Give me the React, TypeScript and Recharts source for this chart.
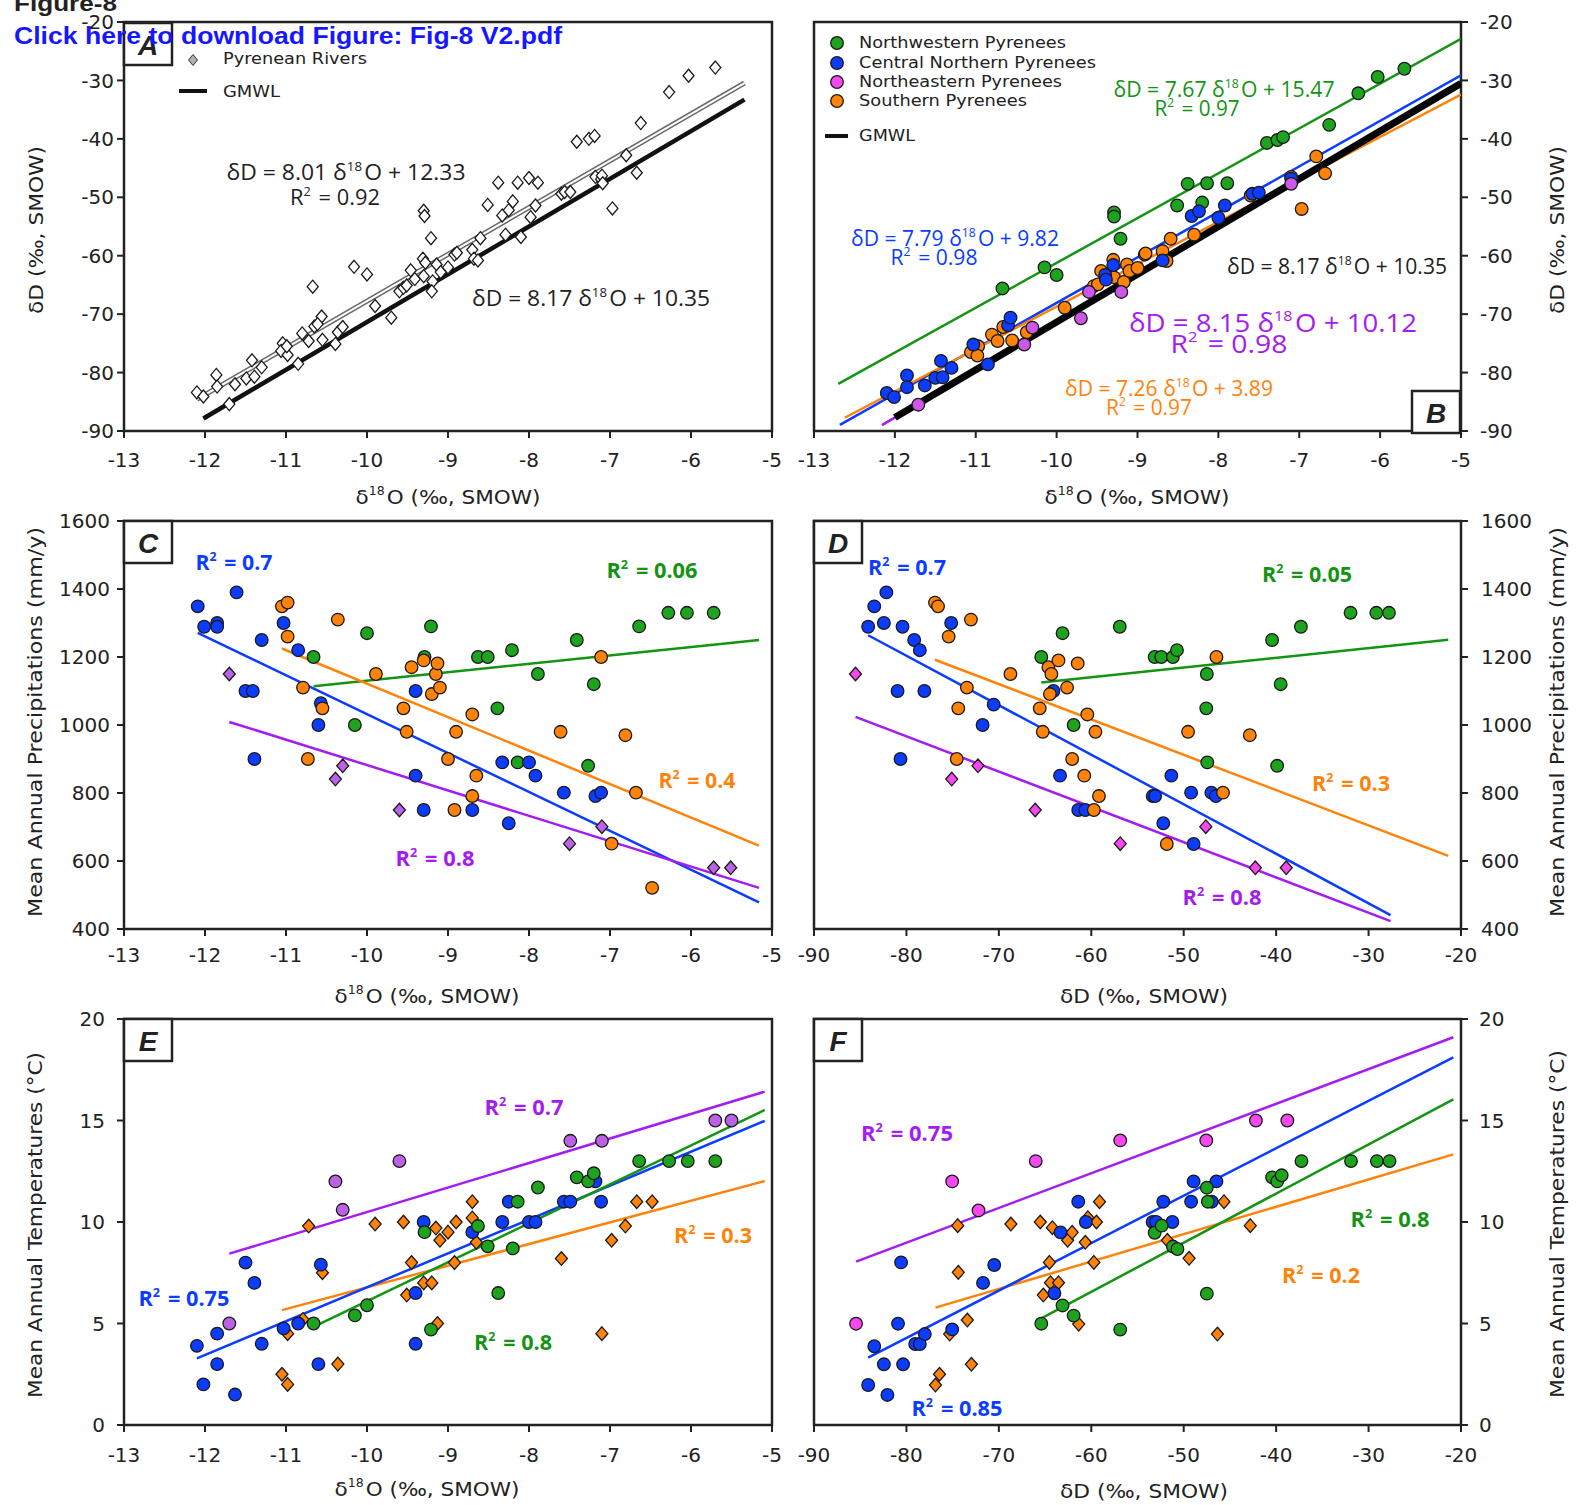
import React from 'react';
import { ScatterChart, Scatter, XAxis, YAxis, ReferenceArea } from 'recharts';

type P = [number, number];

// ---- panel A : river waters, δ18O vs δD
const riversA: P[] = [
  [-12.1, -83.4], [-12.02, -84.1], [-11.86, -80.4], [-11.85, -82.4], [-11.7, -85.4], [-11.63, -82.0], [-11.49, -81.0], [-11.42, -77.9], [-11.39, -80.7], [-11.3, -79.1],
  [-11.04, -75.0], [-11.06, -76.3], [-10.98, -77.0], [-10.99, -75.5], [-10.85, -78.5], [-10.8, -73.3], [-10.72, -74.6], [-10.67, -65.3], [-10.65, -72.1], [-10.56, -70.4],
  [-10.55, -74.4], [-10.61, -71.7], [-10.39, -75.1], [-10.36, -73.1], [-10.3, -72.2], [-10.16, -61.9], [-10.0, -63.2], [-9.9, -68.6], [-9.7, -70.6], [-9.6, -66.1],
  [-9.55, -65.5], [-9.51, -65.1], [-9.46, -62.5], [-9.41, -64.0], [-9.3, -52.3], [-9.29, -53.2], [-9.31, -60.5], [-9.28, -61.2], [-9.3, -63.5], [-9.21, -57.0],
  [-9.19, -64.4], [-9.2, -66.1], [-9.14, -61.5], [-9.09, -62.8], [-9.0, -62.0], [-8.92, -59.8], [-8.89, -59.5], [-8.7, -59.0], [-8.68, -60.5], [-8.63, -60.8],
  [-8.6, -57.0], [-8.51, -51.3], [-8.38, -47.5], [-8.33, -53.1], [-8.29, -56.4], [-8.25, -52.2], [-8.2, -50.7], [-8.14, -47.5], [-8.1, -56.8], [-8.0, -46.7],
  [-7.98, -53.4], [-7.92, -51.4], [-7.89, -47.5], [-7.6, -49.4], [-7.56, -49.1], [-7.49, -49.1], [-7.41, -40.5], [-7.26, -40.0], [-7.19, -39.5], [-7.18, -46.5],
  [-7.11, -46.9], [-7.1, -46.3], [-7.09, -47.6], [-6.97, -51.9], [-6.8, -42.8], [-6.67, -45.8], [-6.62, -37.3], [-6.27, -32.0], [-6.03, -29.2], [-5.7, -27.8],
];

// ---- panel B : the four regions, δ18O vs δD
const nwB: P[] = [
  [-10.67, -65.6], [-10.15, -62.0], [-10.0, -63.3], [-9.29, -52.6], [-9.29, -53.3], [-9.21, -57.1], [-8.51, -51.4], [-8.38, -47.7], [-8.2, -50.9],
  [-8.14, -47.6], [-7.89, -47.6], [-7.4, -40.7], [-7.27, -40.2], [-7.2, -39.7], [-6.63, -37.6], [-6.27, -32.2], [-6.03, -29.4], [-5.7, -28.0],
];
const cnB: P[] = [
  [-12.1, -83.5], [-12.01, -84.2], [-11.85, -80.5], [-11.85, -82.5], [-11.63, -82.2], [-11.5, -80.9], [-11.43, -78.0], [-11.41, -80.8], [-11.3, -79.2],
  [-11.03, -75.2], [-10.85, -78.6], [-10.6, -71.9], [-10.57, -70.6], [-9.4, -63.3], [-9.39, -64.1], [-9.3, -61.6], [-8.69, -60.8], [-8.33, -53.2],
  [-8.24, -52.4], [-8.0, -53.5], [-7.92, -51.4], [-7.58, -49.4], [-7.5, -49.2], [-7.1, -46.8],
];
const neB: P[] = [
  [-11.71, -85.5], [-10.3, -72.3], [-10.4, -75.2], [-9.7, -70.7], [-9.6, -66.2], [-9.2, -66.2], [-7.1, -47.7],
];
const sB: P[] = [
  [-11.06, -76.5], [-10.97, -75.5], [-10.98, -77.1], [-10.8, -73.5], [-10.73, -74.6], [-10.66, -72.2], [-10.55, -74.5], [-10.37, -73.1], [-9.9, -68.9],
  [-9.54, -65.2], [-9.49, -64.9], [-9.45, -62.6], [-9.3, -60.7], [-9.29, -63.7], [-9.17, -64.5], [-9.13, -61.5], [-9.1, -62.6], [-9.0, -62.1],
  [-8.91, -59.8], [-8.9, -59.6], [-8.69, -59.2], [-8.64, -60.9], [-8.59, -57.1], [-8.3, -56.4], [-7.6, -49.7], [-7.1, -46.5], [-6.97, -52.0],
  [-6.79, -43.0], [-6.68, -45.9],
];

// regression equations: slope, intercept, x range
const fitA = { m: 8.01, b: 12.33, x0: -12.1, x1: -5.34 };
const gmwlA = { m: 8.17, b: 10.35, x0: -12.02, x1: -5.34 };
const gmwlB = { m: 8.17, b: 10.35, x0: -12.0, x1: -5.0 };
const fitNwB = { m: 7.67, b: 15.47, x0: -12.7, x1: -5.0 };
const fitCnB = { m: 7.79, b: 9.82, x0: -12.68, x1: -5.0 };
const fitNeB = { m: 8.15, b: 10.12, x0: -12.16, x1: -5.0 };
const fitSB = { m: 7.26, b: 3.89, x0: -12.62, x1: -5.0 };

// ---- panel C : δ18O vs precipitation
const cnC: P[] = [
  [-12.09, 1349], [-12.01, 1289], [-11.85, 1300], [-11.85, 1289], [-11.61, 1390], [-11.5, 1100], [-11.41, 1100], [-11.3, 1250], [-11.39, 900],
  [-11.03, 1300], [-10.85, 1220], [-10.57, 1064], [-10.6, 1000], [-9.4, 1100], [-9.4, 851], [-9.3, 750], [-8.7, 750], [-8.33, 890], [-8.25, 711],
  [-8.0, 890], [-7.92, 851], [-7.57, 801], [-7.18, 791], [-7.11, 801],
];
const nwC: P[] = [
  [-10.66, 1200], [-10.15, 1000], [-10.0, 1270], [-9.29, 1200], [-9.21, 1290], [-8.63, 1200], [-8.51, 1200], [-8.39, 1049], [-8.21, 1220],
  [-8.14, 890], [-7.89, 1150], [-7.41, 1250], [-7.27, 880], [-7.2, 1120], [-6.64, 1290], [-6.28, 1330], [-6.05, 1330], [-5.72, 1330],
];
const sC: P[] = [
  [-11.05, 1349], [-10.98, 1360], [-10.98, 1260], [-10.79, 1110], [-10.73, 900], [-10.55, 1049], [-10.36, 1310], [-9.89, 1150], [-9.55, 1049],
  [-9.51, 980], [-9.45, 1170], [-9.3, 1190], [-9.2, 1091], [-9.15, 1150], [-9.13, 1181], [-9.1, 1110], [-9.0, 900], [-8.92, 750], [-8.9, 980],
  [-8.7, 1031], [-8.7, 791], [-8.65, 851], [-7.61, 980], [-7.11, 1200], [-6.98, 651], [-6.81, 970], [-6.68, 801], [-6.48, 521],
];
const neC: P[] = [
  [-11.7, 1150], [-10.39, 841], [-10.3, 880], [-9.6, 750], [-7.5, 651], [-7.1, 701], [-5.72, 580], [-5.51, 580],
];
const lineCnC: P[] = [[-12.09, 1271], [-5.16, 478]];
const lineNwC: P[] = [[-10.66, 1114], [-5.16, 1250]];
const lineSC: P[] = [[-11.05, 1225], [-5.16, 645]];
const lineNeC: P[] = [[-11.7, 1009], [-5.16, 521]];

// ---- panel D : δD vs precipitation
const cnD: P[] = [
  [-84.14, 1289], [-83.48, 1349], [-82.44, 1300], [-82.17, 1390], [-80.96, 1100], [-80.64, 900], [-80.42, 1289], [-79.16, 1250], [-78.55, 1220],
  [-78.06, 1100], [-75.16, 1300], [-71.76, 1000], [-70.56, 1060], [-64.1, 1100], [-63.38, 851], [-61.41, 750], [-60.65, 750], [-53.36, 791],
  [-53.09, 791], [-52.21, 711], [-51.34, 851], [-49.2, 801], [-48.93, 650], [-47.01, 801], [-46.52, 791],
];
const nwD: P[] = [
  [-65.41, 1200], [-63.11, 1270], [-61.91, 1000], [-56.92, 1289], [-53.14, 1200], [-52.43, 1200], [-51.17, 1200], [-50.73, 1220], [-47.5, 1150],
  [-47.56, 1049], [-47.45, 890], [-40.44, 1250], [-39.89, 880], [-39.51, 1120], [-37.32, 1289], [-31.95, 1330], [-29.16, 1330], [-27.79, 1330],
];
const sD: P[] = [
  [-76.91, 1360], [-76.58, 1349], [-75.43, 1260], [-73.02, 1310], [-73.46, 1110], [-74.39, 1049], [-74.56, 900], [-68.75, 1150], [-65.58, 1049],
  [-65.25, 980], [-64.64, 1170], [-64.32, 1150], [-64.48, 1091], [-63.55, 1190], [-62.62, 1110], [-61.47, 1181], [-62.07, 900], [-60.76, 851],
  [-60.43, 1031], [-59.72, 750], [-59.55, 980], [-59.17, 791], [-51.83, 650], [-49.53, 980], [-46.46, 1200], [-45.75, 801], [-42.85, 970],
];
const neD: P[] = [
  [-85.51, 1150], [-75.1, 841], [-72.26, 880], [-66.07, 750], [-56.87, 651], [-47.61, 701], [-42.25, 580], [-38.91, 580],
];
const lineCnD: P[] = [[-84.14, 1264], [-27.62, 441]];
const lineNwD: P[] = [[-65.41, 1125], [-21.38, 1251]];
const lineSD: P[] = [[-76.91, 1192], [-21.38, 615]];
const lineNeD: P[] = [[-85.51, 1024], [-27.62, 423]];

// ---- panel E : δ18O vs temperature
const cnE: P[] = [
  [-12.1, 3.9], [-12.02, 2.0], [-11.85, 4.5], [-11.85, 3.0], [-11.63, 1.5], [-11.5, 8.0], [-11.39, 7.0], [-11.3, 4.0], [-11.03, 4.76],
  [-10.85, 5.0], [-10.57, 7.9], [-10.6, 3.0], [-9.4, 6.5], [-9.4, 4.0], [-9.3, 10.0], [-8.7, 9.5], [-8.33, 10.0], [-8.25, 11.0], [-8.0, 10.0],
  [-7.92, 10.0], [-7.57, 11.0], [-7.49, 11.0], [-7.18, 12.0], [-7.11, 11.0],
];
const nwE: P[] = [
  [-10.66, 5.0], [-10.15, 5.4], [-10.0, 5.9], [-9.29, 9.5], [-9.21, 4.7], [-8.63, 9.8], [-8.51, 8.8], [-8.38, 6.5], [-8.2, 8.7], [-8.14, 11.0],
  [-7.89, 11.7], [-7.41, 12.2], [-7.27, 12.0], [-7.2, 12.4], [-6.64, 13.0], [-6.27, 13.0], [-6.04, 13.0], [-5.7, 13.0],
];
const sE: P[] = [
  [-11.05, 2.5], [-10.98, 2.0], [-10.98, 4.5], [-10.79, 5.2], [-10.72, 9.8], [-10.55, 7.5], [-10.36, 3.0], [-9.9, 9.9], [-9.55, 10.0],
  [-9.51, 6.4], [-9.45, 8.0], [-9.3, 7.0], [-9.2, 7.0], [-9.15, 9.7], [-9.13, 5.0], [-9.1, 9.1], [-9.0, 9.5], [-8.92, 8.0], [-8.9, 10.0],
  [-8.7, 11.0], [-8.7, 10.2], [-8.65, 9.0], [-7.6, 8.2], [-7.1, 4.5], [-6.98, 9.1], [-6.81, 9.8], [-6.67, 11.0], [-6.48, 11.0],
];
const neE: P[] = [
  [-11.7, 5.0], [-10.39, 12.0], [-10.3, 10.6], [-9.6, 13.0], [-7.49, 14.0], [-7.1, 14.0], [-5.7, 15.0], [-5.5, 15.0],
];
const lineCnE: P[] = [[-12.1, 3.28], [-5.09, 14.98]];
const lineNwE: P[] = [[-10.66, 4.83], [-5.09, 15.52]];
const lineSE: P[] = [[-11.05, 5.66], [-5.09, 12.02]];
const lineNeE: P[] = [[-11.7, 8.44], [-5.09, 16.42]];

// ---- panel F : δD vs temperature
const cnF: P[] = [
  [-84.14, 1.97], [-83.48, 3.88], [-82.44, 2.99], [-82.06, 1.48], [-80.91, 4.99], [-80.58, 8.01], [-80.36, 2.99], [-79.05, 3.99], [-78.55, 3.99],
  [-78.01, 4.48], [-75.05, 4.71], [-71.71, 7.0], [-70.5, 7.88], [-63.99, 6.49], [-63.33, 9.49], [-61.41, 11.0], [-60.59, 10.0], [-53.36, 10.0],
  [-52.98, 10.0], [-52.21, 11.0], [-51.23, 10.0], [-49.2, 11.0], [-48.93, 12.0], [-46.96, 11.0], [-46.46, 12.0],
];
const nwF: P[] = [
  [-65.41, 4.99], [-63.11, 5.89], [-61.91, 5.39], [-56.87, 4.7], [-53.14, 9.47], [-52.38, 9.82], [-51.17, 8.79], [-50.68, 8.67], [-47.5, 6.47],
  [-47.5, 11.69], [-47.39, 11.0], [-40.44, 12.2], [-39.89, 12.0], [-39.4, 12.3], [-37.26, 13.0], [-31.9, 13.0], [-29.1, 13.0], [-27.73, 13.0],
];
const sF: P[] = [
  [-76.86, 1.97], [-76.42, 2.5], [-72.97, 2.99], [-75.32, 4.48], [-73.41, 5.17], [-61.36, 4.97], [-74.39, 7.52], [-74.45, 9.82], [-68.7, 9.9],
  [-65.52, 10.0], [-65.19, 6.4], [-64.53, 8.01], [-64.42, 7.01], [-64.21, 9.72], [-63.55, 7.01], [-62.56, 9.1], [-62.07, 9.49], [-60.65, 9.0],
  [-60.37, 10.21], [-59.72, 8.01], [-59.44, 10.0], [-59.11, 11.0], [-51.77, 9.1], [-49.42, 8.21], [-46.35, 4.48], [-45.64, 11.0], [-42.8, 9.82],
];
const neF: P[] = [
  [-85.45, 4.99], [-75.05, 12.0], [-72.2, 10.57], [-66.01, 13.0], [-56.87, 14.02], [-47.56, 14.02], [-42.19, 15.0], [-38.79, 15.0],
];
const lineCnF: P[] = [[-84.14, 3.32], [-20.83, 18.11]];
const lineNwF: P[] = [[-65.41, 5.25], [-20.83, 16.04]];
const lineSF: P[] = [[-76.86, 5.78], [-20.83, 13.33]];
const lineNeF: P[] = [[-85.45, 8.05], [-20.83, 19.1]];

// ---- axis ticks
const o18Ticks = [-13, -12, -11, -10, -9, -8, -7, -6, -5];
const dTicks = [-90, -80, -70, -60, -50, -40, -30, -20];
const precipTicks = [400, 600, 800, 1000, 1200, 1400, 1600];
const tempTicks = [0, 5, 10, 15, 20];

// ---- colours
const GREEN = '#1ea31e';
const GREEN_LINE = '#139413';
const BLUE = '#0b3cff';
const ORANGE = '#ff8209';
const PURPLE = '#a51cf0';
const PINK = '#f548ee';
const ORCHID = '#bb62e6';
const INK = '#222';

const FONT_TICK = "'DejaVu Sans', Verdana, sans-serif";
const FONT_TITLE = "'DejaVu Sans', Verdana, sans-serif";
const FONT_NOTE = "'Open Sans', 'Noto Sans', sans-serif";

const pts = (a: P[]) => a.map(([x, y]) => ({ x, y }));
const eqLine = (e: { m: number; b: number; x0: number; x1: number }) => [
  { x: e.x0, y: e.m * e.x0 + e.b },
  { x: e.x1, y: e.m * e.x1 + e.b },
];

const circle = (fill: string) => (s: any) => (
  <circle cx={s.cx} cy={s.cy} r={6.3} fill={fill} stroke="#1a1a1a" strokeWidth={1.3} />
);
const diamond = (fill: string, w = 6, h = 6.8) => (s: any) => (
  <path
    d={`M${s.cx},${s.cy - h}L${s.cx + w},${s.cy}L${s.cx},${s.cy + h}L${s.cx - w},${s.cy}Z`}
    fill={fill}
    stroke="#1a1a1a"
    strokeWidth={1.3}
  />
);
const noDot = () => <g />;

function dots(key: string, data: P[], shape: (s: any) => React.ReactElement) {
  return <Scatter key={key} data={pts(data)} shape={shape} isAnimationActive={false} legendType="none" />;
}

function fit(key: string, data: { x: number; y: number }[], stroke: string, width = 2.5) {
  return (
    <Scatter
      key={key}
      data={data}
      line={{ stroke, strokeWidth: width }}
      shape={noDot}
      isAnimationActive={false}
      legendType="none"
    />
  );
}

interface PanelProps {
  left: number;
  top: number;
  width: number;
  height: number;
  margin: { top: number; right: number; bottom: number; left: number };
  xDomain: [number, number];
  xTicks: number[];
  xGap: number;
  yDomain: [number, number];
  yTicks: number[];
  yGap: number;
  yRight?: boolean;
  children: React.ReactNode;
}

function Panel(p: PanelProps) {
  const tick = { fontSize: 20, fill: INK, fontFamily: FONT_TICK };
  const tickLine = { stroke: INK, strokeWidth: 2 };
  return (
    <div style={{ position: 'absolute', left: p.left, top: p.top }}>
      <ScatterChart width={p.width} height={p.height} margin={p.margin}>
        <XAxis
          type="number"
          dataKey="x"
          domain={p.xDomain}
          ticks={p.xTicks}
          interval={0}
          allowDataOverflow
          axisLine={false}
          tickLine={tickLine}
          tickSize={7}
          tickMargin={p.xGap}
          height={40}
          tick={tick}
        />
        <YAxis
          type="number"
          dataKey="y"
          orientation={p.yRight ? 'right' : 'left'}
          domain={p.yDomain}
          ticks={p.yTicks}
          interval={0}
          allowDataOverflow
          axisLine={false}
          tickLine={tickLine}
          tickSize={7}
          tickMargin={p.yGap}
          width={60}
          tick={tick}
        />
        <ReferenceArea
          x1={p.xDomain[0]}
          x2={p.xDomain[1]}
          y1={p.yDomain[0]}
          y2={p.yDomain[1]}
          fill="none"
          stroke={INK}
          strokeWidth={2.5}
          ifOverflow="visible"
        />
        {p.children}
      </ScatterChart>
    </div>
  );
}

// text helpers for the annotation layer
function Note(props: {
  x: number;
  y: number;
  w?: number;
  size: number;
  fill?: string;
  bold?: boolean;
  italic?: boolean;
  family?: string;
  anchor?: 'start' | 'middle' | 'end';
  rotate?: boolean;
  children: React.ReactNode;
}) {
  const { x, y, w, size, fill = INK, bold, italic, family = FONT_NOTE, anchor = 'middle', rotate } = props;
  return (
    <text
      x={x}
      y={y}
      fontSize={size}
      fill={fill}
      fontWeight={bold ? 700 : 400}
      fontStyle={italic ? 'italic' : 'normal'}
      fontFamily={family}
      textAnchor={anchor}
      dominantBaseline="central"
      textLength={w}
      lengthAdjust={w ? 'spacingAndGlyphs' : undefined}
      transform={rotate ? `rotate(-90 ${x} ${y})` : undefined}
    >
      {props.children}
    </text>
  );
}

// small raised figures (R², δ18O); the second tspan drops back to the line
const Sup = ({ t, size }: { t: string; size: number }) => (
  <>
    <tspan dy={-0.3 * size} fontSize={0.58 * size}>
      {t}
    </tspan>
    <tspan dy={0.3 * size}>{'\u200a'}</tspan>
  </>
);

function R2({ x, y, w, value, fill, size = 21, bold = true }: { x: number; y: number; w: number; value: string; fill: string; size?: number; bold?: boolean }) {
  return (
    <Note x={x} y={y} w={w} size={size} fill={fill} bold={bold}>
      R<Sup t="2" size={size} /> = {value}
    </Note>
  );
}

function Eq({ x, y, w, slope, icpt, fill = INK, size = 21 }: { x: number; y: number; w: number; slope: string; icpt: string; fill?: string; size?: number }) {
  return (
    <Note x={x} y={y} w={w} size={size} fill={fill}>
      δD = {slope} δ<Sup t="18" size={size} />O + {icpt}
    </Note>
  );
}

function LetterBox({ x, y, label }: { x: number; y: number; label: string }) {
  return (
    <g>
      <rect x={x} y={y} width={48} height={42} fill="#fff" stroke={INK} strokeWidth={2.5} />
      <Note x={x + 24} y={y + 22} size={28} bold italic family="'Liberation Sans', Arial, sans-serif">
        {label}
      </Note>
    </g>
  );
}

const O18Title = ({ x, y }: { x: number; y: number }) => (
  <Note x={x} y={y} w={185} size={20} family={FONT_TITLE}>
    δ<Sup t="18" size={20} />O (‰, SMOW)
  </Note>
);
const DTitle = ({ x, y, w = 168, rotate }: { x: number; y: number; w?: number; rotate?: boolean }) => (
  <Note x={x} y={y} w={w} size={20} family={FONT_TITLE} rotate={rotate}>
    δD (‰, SMOW)
  </Note>
);

// chart boxes: left / right column, three rows
const colL = { left: 0, width: 790, mLeft: 64, mRight: 18 };
const colR = { left: 790, width: 795, mLeft: 24, mRight: 64 };
const row1 = { top: 0, height: 490, mTop: 22, mBottom: 19, gap: 15 };
const row2 = { top: 495, height: 490, mTop: 26, mBottom: 16, gap: 12 };
const row3 = { top: 995, height: 490, mTop: 24, mBottom: 20, gap: 16 };

const box = (c: typeof colL, r: typeof row1) => ({
  left: c.left,
  top: r.top,
  width: c.width,
  height: r.height,
  margin: { top: r.mTop, right: c.mRight, bottom: r.mBottom, left: c.mLeft },
  xGap: r.gap,
});

export default function App() {
  return (
    <div style={{ position: 'absolute', left: 0, top: 0, width: 1585, height: 1505, background: '#fff', overflow: 'hidden' }}>
      {/* A */}
      <Panel {...box(colL, row1)} xDomain={[-13, -5]} xTicks={o18Ticks} yDomain={[-90, -20]} yTicks={dTicks} yGap={3}>
        {fit('fitOuter', eqLine(fitA), '#6a6a6a', 5)}
        {fit('fitInner', eqLine(fitA), '#fff', 2)}
        {fit('gmwl', eqLine(gmwlA), '#111', 4.5)}
        {dots('rivers', riversA, diamond('#fff', 5.5, 6.5))}
      </Panel>

      {/* B */}
      <Panel {...box(colR, row1)} xDomain={[-13, -5]} xTicks={o18Ticks} yDomain={[-90, -20]} yTicks={dTicks} yGap={12} yRight>
        {fit('nw', eqLine(fitNwB), GREEN_LINE)}
        {fit('ne', eqLine(fitNeB), PURPLE)}
        {fit('cn', eqLine(fitCnB), BLUE)}
        {fit('s', eqLine(fitSB), ORANGE)}
        {fit('gmwl', eqLine(gmwlB), '#050505', 7)}
        {dots('nwPts', nwB, circle(GREEN))}
        {dots('sPts', sB, circle(ORANGE))}
        {dots('cnPts', cnB, circle(BLUE))}
        {dots('nePts', neB, circle('#cc58ea'))}
      </Panel>

      {/* C */}
      <Panel {...box(colL, row2)} xDomain={[-13, -5]} xTicks={o18Ticks} yDomain={[400, 1600]} yTicks={precipTicks} yGap={7}>
        {fit('cn', pts(lineCnC), BLUE)}
        {fit('nw', pts(lineNwC), GREEN_LINE)}
        {fit('s', pts(lineSC), ORANGE)}
        {fit('ne', pts(lineNeC), PURPLE)}
        {dots('nwPts', nwC, circle(GREEN))}
        {dots('cnPts', cnC, circle(BLUE))}
        {dots('sPts', sC, circle(ORANGE))}
        {dots('nePts', neC, diamond(ORCHID))}
      </Panel>

      {/* D */}
      <Panel {...box(colR, row2)} xDomain={[-90, -20]} xTicks={dTicks} yDomain={[400, 1600]} yTicks={precipTicks} yGap={13} yRight>
        {fit('cn', pts(lineCnD), BLUE)}
        {fit('nw', pts(lineNwD), GREEN_LINE)}
        {fit('s', pts(lineSD), ORANGE)}
        {fit('ne', pts(lineNeD), PURPLE)}
        {dots('nwPts', nwD, circle(GREEN))}
        {dots('cnPts', cnD, circle(BLUE))}
        {dots('sPts', sD, circle(ORANGE))}
        {dots('nePts', neD, diamond(PINK))}
      </Panel>

      {/* E */}
      <Panel {...box(colL, row3)} xDomain={[-13, -5]} xTicks={o18Ticks} yDomain={[0, 20]} yTicks={tempTicks} yGap={12}>
        {fit('ne', pts(lineNeE), PURPLE)}
        {fit('s', pts(lineSE), ORANGE)}
        {fit('cn', pts(lineCnE), BLUE)}
        {fit('nw', pts(lineNwE), GREEN_LINE)}
        {dots('sPts', sE, diamond(ORANGE))}
        {dots('cnPts', cnE, circle(BLUE))}
        {dots('nwPts', nwE, circle(GREEN))}
        {dots('nePts', neE, circle(ORCHID))}
      </Panel>

      {/* F */}
      <Panel {...box(colR, row3)} xDomain={[-90, -20]} xTicks={dTicks} yDomain={[0, 20]} yTicks={tempTicks} yGap={11} yRight>
        {fit('ne', pts(lineNeF), PURPLE)}
        {fit('s', pts(lineSF), ORANGE)}
        {fit('cn', pts(lineCnF), BLUE)}
        {fit('nw', pts(lineNwF), GREEN_LINE)}
        {dots('sPts', sF, diamond(ORANGE))}
        {dots('cnPts', cnF, circle(BLUE))}
        {dots('nwPts', nwF, circle(GREEN))}
        {dots('nePts', neF, circle(PINK))}
      </Panel>

      {/* titles, legends, equations */}
      <svg width={1585} height={1505} style={{ position: 'absolute', left: 0, top: 0, pointerEvents: 'none' }}>
        {/* A */}
        <LetterBox x={124} y={23} label="A" />
        <path d="M193,54.5L197.5,60L193,65.5L188.5,60Z" fill="#b0b0b0" stroke="#333" strokeWidth={1} />
        <Note x={223} y={58} w={144} size={16} family={FONT_TITLE} anchor="start">Pyrenean Rivers</Note>
        <line x1={179} y1={91} x2={207} y2={91} stroke="#111" strokeWidth={4} />
        <Note x={223} y={91} w={57} size={16} family={FONT_TITLE} anchor="start">GMWL</Note>
        <Eq x={346} y={172} w={239} slope="8.01 " icpt="12.33" />
        <R2 x={335} y={197} w={90} value="0.92" fill={INK} bold={false} />
        <Eq x={591} y={298} w={238} slope="8.17 " icpt="10.35" />
        <O18Title x={448} y={497} />
        <DTitle x={36} y={230} rotate />

        {/* B */}
        <circle cx={837} cy={43} r={6.3} fill={GREEN} stroke="#1a1a1a" strokeWidth={1.3} />
        <circle cx={837} cy={63} r={6.3} fill={BLUE} stroke="#1a1a1a" strokeWidth={1.3} />
        <circle cx={837} cy={82} r={6.3} fill={PINK} stroke="#1a1a1a" strokeWidth={1.3} />
        <circle cx={837} cy={101} r={6.3} fill={ORANGE} stroke="#1a1a1a" strokeWidth={1.3} />
        <Note x={859} y={42} w={207} size={16} family={FONT_TITLE} anchor="start">Northwestern Pyrenees</Note>
        <Note x={859} y={62} w={237} size={16} family={FONT_TITLE} anchor="start">Central Northern Pyrenees</Note>
        <Note x={859} y={81} w={203} size={16} family={FONT_TITLE} anchor="start">Northeastern Pyrenees</Note>
        <Note x={859} y={100} w={168} size={16} family={FONT_TITLE} anchor="start">Southern Pyrenees</Note>
        <line x1={825} y1={136} x2={848} y2={136} stroke="#111" strokeWidth={4} />
        <Note x={859} y={135} w={56} size={16} family={FONT_TITLE} anchor="start">GMWL</Note>
        <Eq x={1224} y={89} w={221} slope="7.67" icpt="15.47" fill={GREEN_LINE} />
        <R2 x={1197} y={108} w={85} value="0.97" fill={GREEN_LINE} bold={false} />
        <Eq x={955} y={238} w={208} slope="7.79" icpt="9.82" fill={BLUE} />
        <R2 x={934} y={257} w={87} value="0.98" fill={BLUE} bold={false} />
        <Eq x={1337} y={266} w={220} slope="8.17" icpt="10.35" />
        <Eq x={1273} y={322} w={288} slope=" 8.15" icpt="10.12" fill={PURPLE} size={25} />
        <R2 x={1229} y={343} w={117} value="0.98" fill={PURPLE} size={25} bold={false} />
        <Eq x={1169} y={388} w={208} slope="7.26" icpt="3.89" fill={ORANGE} />
        <R2 x={1149} y={407} w={86} value="0.97" fill={ORANGE} bold={false} />
        <LetterBox x={1412} y={391} label="B" />
        <O18Title x={1137} y={497} />
        <DTitle x={1557} y={230} rotate />

        {/* C */}
        <LetterBox x={124} y={521} label="C" />
        <R2 x={234} y={562} w={77} value="0.7" fill={BLUE} />
        <R2 x={652} y={570} w={91} value="0.06" fill={GREEN_LINE} />
        <R2 x={697} y={780} w={77} value="0.4" fill={ORANGE} />
        <R2 x={435} y={858} w={79} value="0.8" fill={PURPLE} />
        <O18Title x={427} y={996} />
        <Note x={35} y={722} w={390} size={20} family={FONT_TITLE} rotate>
          Mean Annual Precipitations (mm/y)
        </Note>

        {/* D */}
        <LetterBox x={814} y={521} label="D" />
        <R2 x={907} y={567} w={78} value="0.7" fill={BLUE} />
        <R2 x={1307} y={574} w={90} value="0.05" fill={GREEN_LINE} />
        <R2 x={1351} y={783} w={78} value="0.3" fill={ORANGE} />
        <R2 x={1222} y={897} w={79} value="0.8" fill={PURPLE} />
        <DTitle x={1144} y={996} />
        <Note x={1557} y={722} w={390} size={20} family={FONT_TITLE} rotate>
          Mean Annual Precipitations (mm/y)
        </Note>

        {/* E */}
        <LetterBox x={124} y={1019} label="E" />
        <R2 x={524} y={1107} w={79} value="0.7" fill={PURPLE} />
        <R2 x={713} y={1235} w={78} value="0.3" fill={ORANGE} />
        <R2 x={184} y={1298} w={91} value="0.75" fill={BLUE} />
        <R2 x={513} y={1342} w={78} value="0.8" fill={GREEN_LINE} />
        <O18Title x={427} y={1489} />
        <Note x={35} y={1225} w={346} size={20} family={FONT_TITLE} rotate>
          Mean Annual Temperatures (°C)
        </Note>

        {/* F */}
        <LetterBox x={814} y={1019} label="F" />
        <R2 x={907} y={1133} w={92} value="0.75" fill={PURPLE} />
        <R2 x={1390} y={1219} w={79} value="0.8" fill={GREEN_LINE} />
        <R2 x={1321} y={1275} w={78} value="0.2" fill={ORANGE} />
        <R2 x={957} y={1408} w={91} value="0.85" fill={BLUE} />
        <DTitle x={1144} y={1491} />
        <Note x={1557} y={1224} w={348} size={20} family={FONT_TITLE} rotate>
          Mean Annual Temperatures (°C)
        </Note>

        {/* page header, printed over panel A */}
        <Note x={14} y={3} w={103} size={22} bold anchor="start" family="'Liberation Sans', Arial, sans-serif">
          Figure-8
        </Note>
        <Note x={14} y={35} w={548} size={24} bold anchor="start" fill="#1717ff" family="'Liberation Sans', Arial, sans-serif">
          Click here to download Figure: Fig-8 V2.pdf
        </Note>
      </svg>
    </div>
  );
}
